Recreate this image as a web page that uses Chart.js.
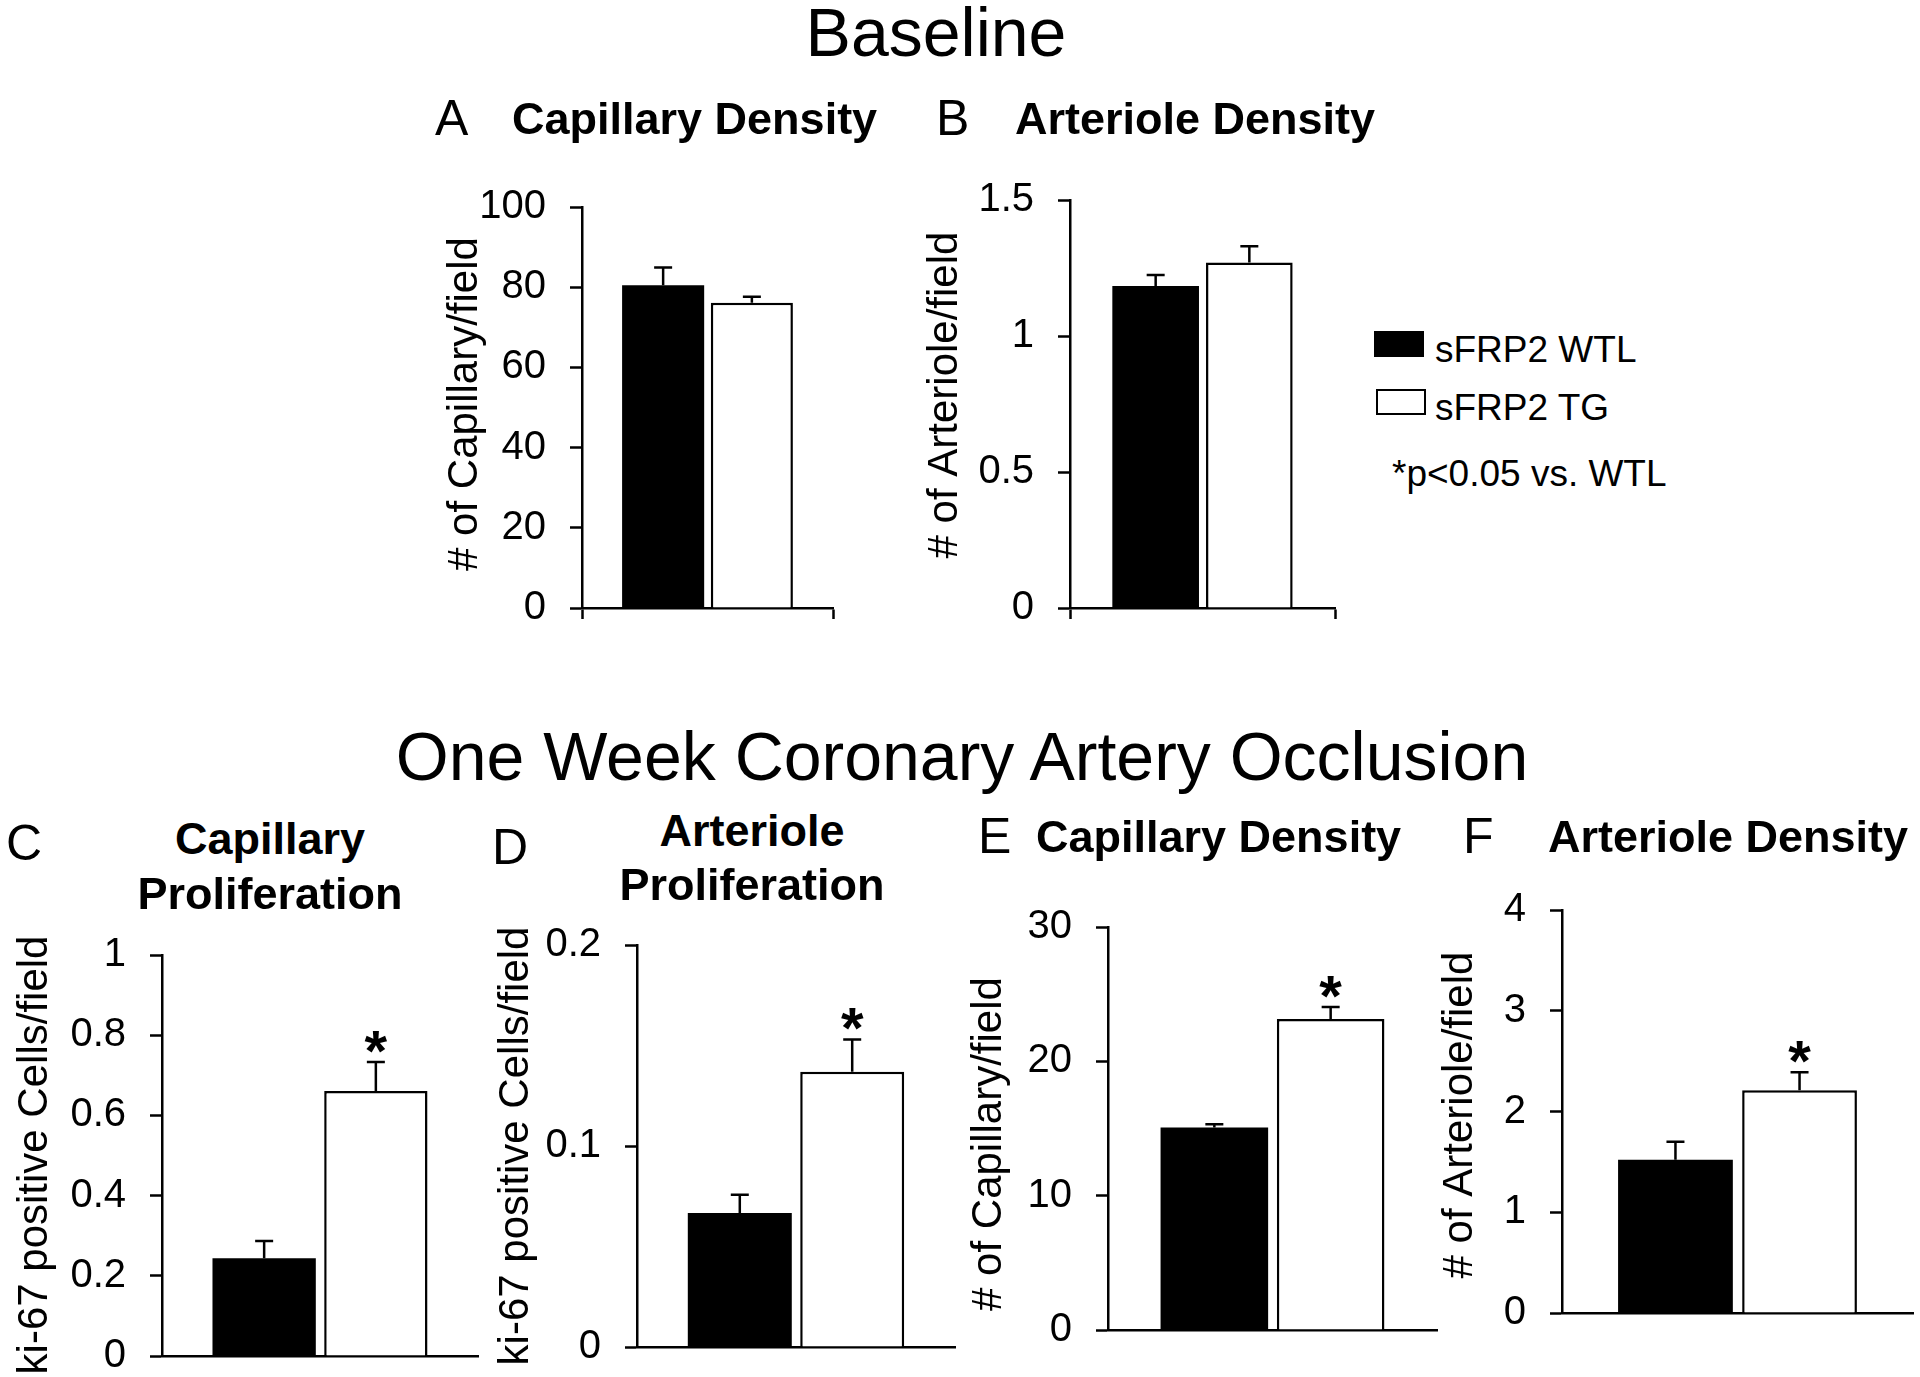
<!DOCTYPE html>
<html>
<head>
<meta charset="utf-8">
<title>sFRP2 capillary and arteriole density</title>
<script src="https://cdn.jsdelivr.net/npm/chart.js@4.4.1/dist/chart.umd.min.js"></script>
<style>
  html, body { margin: 0; padding: 0; background: #fff; overflow: hidden; }
  body { width: 1920px; height: 1377px; position: relative; font-family: "Liberation Sans", Arial, sans-serif; color: #000; }
  .box { position: absolute; }
  .txt { position: absolute; white-space: nowrap; line-height: 1; }
  .swatch { position: absolute; box-sizing: border-box; }
</style>
</head>
<body>
<script>
// Groups / series
const groups = ['sFRP2 WTL', 'sFRP2 TG'];
const seriesColors = ['#000000', '#ffffff'];

// A - baseline capillary density
const baseCapDensity = [80.5, 76.1];
const baseCapDensityErr = [4.4, 1.5];
const baseCapDensityTicks = [0, 20, 40, 60, 80, 100];

// B - baseline arteriole density
const baseArtDensity = [1.184, 1.27];
const baseArtDensityErr = [0.04, 0.06];
const baseArtDensityTicks = [0, 0.5, 1, 1.5];

// C - 1 week occlusion, capillary proliferation
const occCapProlif = [0.244, 0.661];
const occCapProlifErr = [0.043, 0.072];
const occCapProlifTicks = [0, 0.2, 0.4, 0.6, 0.8, 1];

// D - 1 week occlusion, arteriole proliferation
const occArtProlif = [0.0667, 0.137];
const occArtProlifErr = [0.009, 0.016];
const occArtProlifTicks = [0, 0.1, 0.2];

// E - 1 week occlusion, capillary density
const occCapDensity = [15.07, 23.15];
const occCapDensityErr = [0.25, 0.9];
const occCapDensityTicks = [0, 10, 20, 30];

// F - 1 week occlusion, arteriole density
const occArtDensity = [1.52, 2.21];
const occArtDensityErr = [0.18, 0.18];
const occArtDensityTicks = [0, 1, 2, 3, 4];

// significance marks
const noStars = ['', ''];
const occStars = ['', '*'];

const FONT = '"Liberation Sans", Arial, sans-serif';
Chart.defaults.font.family = FONT;
Chart.defaults.color = '#000';

// room above/below the plot so chart.js label padding doesn't shrink it
const MARGIN = 64;

// error bars + asterisks
const errorBars = {
  id: 'errorBars',
  afterDatasetsDraw(chart, args, opts) {
    const { ctx } = chart;
    const y = chart.scales.y;
    chart.data.datasets.forEach((ds, i) => {
      const meta = chart.getDatasetMeta(i);
      meta.data.forEach((bar, j) => {
        const v = ds.data[j];
        const top = y.getPixelForValue(v + ds.errors[j]);
        const base = y.getPixelForValue(v);
        ctx.save();
        ctx.strokeStyle = '#000';
        ctx.lineWidth = opts.lineWidth;
        ctx.beginPath();
        ctx.moveTo(bar.x, base);
        ctx.lineTo(bar.x, top);
        ctx.moveTo(bar.x - opts.cap, top);
        ctx.lineTo(bar.x + opts.cap, top);
        ctx.stroke();
        const star = ds.stars[j];
        if (star) {
          ctx.font = 'bold ' + opts.starSize + 'px ' + FONT;
          ctx.fillStyle = '#000';
          ctx.textAlign = 'center';
          ctx.textBaseline = 'alphabetic';
          const m = ctx.measureText(star);
          ctx.fillText(star, bar.x, top - opts.starGap - m.actualBoundingBoxDescent);
        }
        ctx.restore();
      });
    });
  }
};

// rotated y title without width squeeze
const yTitle = {
  id: 'yTitle',
  afterDraw(chart, args, opts) {
    const { ctx } = chart;
    ctx.save();
    ctx.translate(opts.x, opts.y);
    ctx.rotate(-Math.PI / 2);
    ctx.font = opts.size + 'px ' + FONT;
    ctx.fillStyle = '#000';
    ctx.textAlign = 'center';
    ctx.textBaseline = 'middle';
    ctx.fillText(opts.text, 0, 0);
    ctx.restore();
  }
};

// x0/x1 = canvas left/right, area = plot left, top, right, bottom (page px)
const panels = [
  { values: baseCapDensity, errors: baseCapDensityErr, stars: noStars, ticks: baseCapDensityTicks,
    title: '# of Capillary/field', x0: 420, x1: 853, area: [582, 207, 833, 608], tx: 465, ty: 404, xTicks: true },
  { values: baseArtDensity, errors: baseArtDensityErr, stars: noStars, ticks: baseArtDensityTicks,
    title: '# of Arteriole/field', x0: 900, x1: 1355, area: [1070, 200, 1335, 608], tx: 945, ty: 395, xTicks: true },
  { values: occCapProlif, errors: occCapProlifErr, stars: occStars, ticks: occCapProlifTicks,
    title: 'ki-67 positive Cells/field', x0: 0, x1: 498, area: [162, 955, 478, 1356], tx: 35, ty: 1155, xTicks: false },
  { values: occArtProlif, errors: occArtProlifErr, stars: occStars, ticks: occArtProlifTicks,
    title: 'ki-67 positive Cells/field', x0: 480, x1: 975, area: [637, 945, 955, 1347], tx: 516, ty: 1146, xTicks: false },
  { values: occCapDensity, errors: occCapDensityErr, stars: occStars, ticks: occCapDensityTicks,
    title: '# of Capillary/field', x0: 960, x1: 1457, area: [1108, 927, 1437, 1330], tx: 989, ty: 1144, xTicks: false },
  { values: occArtDensity, errors: occArtDensityErr, stars: occStars, ticks: occArtDensityTicks,
    title: '# of Arteriole/field', x0: 1430, x1: 1920, area: [1562, 910, 1913, 1313], tx: 1460, ty: 1115, xTicks: false }
];

function makeChart(p) {
  const [L, T, R, B] = p.area;
  const x0 = p.x0, x1 = p.x1;
  const y0 = T - MARGIN, y1 = B + MARGIN;
  const wrap = document.createElement('div');
  wrap.className = 'box';
  Object.assign(wrap.style, { left: x0 + 'px', top: y0 + 'px', width: (x1 - x0) + 'px', height: (y1 - y0) + 'px' });
  const canvas = document.createElement('canvas');
  wrap.appendChild(canvas);
  document.body.appendChild(wrap);

  new Chart(canvas, {
    type: 'bar',
    data: {
      labels: [''],
      datasets: groups.map((g, i) => ({
        label: g,
        data: [p.values[i]],
        errors: [p.errors[i]],
        stars: [p.stars[i]],
        backgroundColor: seriesColors[i],
        borderColor: '#000',
        borderWidth: i === 0 ? 0 : 2.5,
        categoryPercentage: 0.707,
        barPercentage: 0.925
      }))
    },
    options: {
      responsive: true,
      maintainAspectRatio: false,
      animation: false,
      layout: { padding: { left: 0, top: MARGIN, right: x1 - R, bottom: 0 } },
      plugins: {
        legend: { display: false },
        tooltip: { enabled: false },
        errorBars: { lineWidth: 2.5, cap: 9, starSize: 58, starGap: 9 },
        yTitle: { text: p.title, x: p.tx - x0, y: p.ty - y0, size: 42 }
      },
      scales: {
        x: {
          type: 'category',
          grid: { display: p.xTicks, offset: true, drawOnChartArea: false, drawTicks: true, tickLength: 11, tickWidth: 2.5, tickColor: '#000' },
          border: { display: true, color: '#000', width: 2.5 },
          ticks: { display: false },
          afterFit: s => { s.height = MARGIN; }
        },
        y: {
          min: p.ticks[0],
          max: p.ticks[p.ticks.length - 1],
          grid: { drawOnChartArea: false, drawTicks: true, tickLength: 12, tickWidth: 2.5, tickColor: '#000' },
          border: { display: true, color: '#000', width: 2.5 },
          ticks: { font: { size: 40 }, color: '#000', padding: 24, callback: v => String(v) },
          afterBuildTicks: s => { s.ticks = p.ticks.map(v => ({ value: v })); },
          afterFit: s => { s.width = L - x0; }
        }
      }
    },
    plugins: [errorBars, yTitle]
  });
}

panels.forEach(makeChart);

// headings
function addText(str, x, baseline, size, bold, center) {
  const d = document.createElement('div');
  d.className = 'txt';
  d.textContent = str;
  d.style.fontSize = size + 'px';
  d.style.fontWeight = bold ? 'bold' : 'normal';
  d.style.top = (baseline - 0.8465 * size) + 'px';
  d.style.left = x + 'px';
  if (center) d.style.transform = 'translateX(-50%)';
  document.body.appendChild(d);
}

addText('Baseline', 936, 56, 68, false, true);
addText('One Week Coronary Artery Occlusion', 962, 780, 68, false, true);

addText('A', 435, 135, 50);
addText('Capillary Density', 512, 134, 45, true);
addText('B', 936, 135, 50);
addText('Arteriole Density', 1015, 134, 45, true);

addText('C', 6, 860, 50);
addText('Capillary', 270, 854, 45, true, true);
addText('Proliferation', 270, 909, 45, true, true);
addText('D', 492, 864, 50);
addText('Arteriole', 752, 846, 45, true, true);
addText('Proliferation', 752, 900, 45, true, true);
addText('E', 978, 853, 50);
addText('Capillary Density', 1036, 852, 45, true);
addText('F', 1463, 853, 50);
addText('Arteriole Density', 1548, 852, 45, true);

// legend
const legendRows = [331, 389];
groups.forEach((g, i) => {
  const s = document.createElement('div');
  s.className = 'swatch';
  Object.assign(s.style, {
    left: (1374 + i * 2) + 'px', top: legendRows[i] + 'px', width: '50px', height: '26px',
    background: seriesColors[i], border: '2.5px solid #000'
  });
  document.body.appendChild(s);
  addText(g, 1435, legendRows[i] + 31, 37);
});
addText('*p<0.05 vs. WTL', 1392, 486, 37);
</script>
</body>
</html>
